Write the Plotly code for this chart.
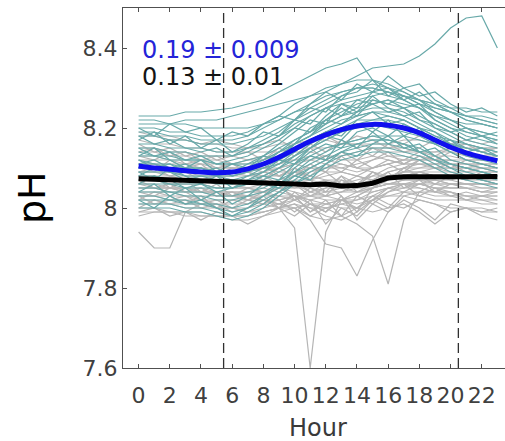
import plotly.graph_objects as go

HOURS = list(range(24))

GRAY_DAYS = [
    [8.07, 8.07, 8.06, 8.06, 8.06, 8.05, 8.05, 8.05, 8.06, 8.06, 8.07, 8.07, 8.06, 8.06, 8.07, 8.08, 8.08, 8.09, 8.09, 8.08, 8.08, 8.07, 8.07, 8.07],
    [8.10, 8.10, 8.09, 8.09, 8.08, 8.08, 8.08, 8.09, 8.10, 8.11, 8.12, 8.12, 8.13, 8.12, 8.12, 8.13, 8.12, 8.11, 8.11, 8.10, 8.10, 8.10, 8.09, 8.09],
    [8.03, 8.03, 8.02, 8.02, 8.02, 8.01, 8.01, 8.01, 8.02, 8.02, 8.03, 8.02, 8.03, 8.04, 8.04, 8.05, 8.06, 8.06, 8.06, 8.05, 8.05, 8.05, 8.04, 8.04],
    [8.14, 8.14, 8.13, 8.13, 8.12, 8.12, 8.11, 8.11, 8.11, 8.12, 8.12, 8.13, 8.12, 8.11, 8.10, 8.10, 8.11, 8.12, 8.12, 8.13, 8.13, 8.12, 8.12, 8.12],
    [8.00, 8.00, 7.99, 7.99, 7.99, 7.98, 7.98, 7.98, 7.99, 8.00, 8.01, 8.00, 8.00, 8.01, 8.02, 8.03, 8.03, 8.04, 8.04, 8.03, 8.03, 8.02, 8.02, 8.01],
    [8.06, 8.06, 8.05, 8.05, 8.05, 8.04, 8.04, 8.03, 8.02, 8.00, 7.95, 7.60, 7.94, 8.02, 8.04, 8.05, 8.06, 8.07, 8.07, 8.06, 8.06, 8.06, 8.05, 8.05],
    [8.05, 8.05, 8.04, 8.04, 8.04, 8.03, 8.03, 8.03, 8.02, 8.01, 8.00, 7.97, 7.91, 7.90, 7.83, 7.92, 7.99, 8.03, 8.04, 8.04, 8.04, 8.03, 8.03, 8.03],
    [8.08, 8.08, 8.07, 8.07, 8.07, 8.06, 8.06, 8.05, 8.05, 8.04, 8.03, 8.01, 8.00, 7.98, 7.96, 7.93, 7.81, 7.97, 8.04, 8.06, 8.06, 8.06, 8.06, 8.06],
    [7.94, 7.90, 7.90, 7.99, 8.01, 8.01, 8.00, 8.00, 8.01, 8.02, 8.03, 8.03, 8.04, 8.04, 8.05, 8.05, 8.06, 8.06, 8.06, 8.05, 8.05, 8.05, 8.04, 8.04],
    [8.12, 8.12, 8.12, 8.11, 8.11, 8.10, 8.10, 8.10, 8.10, 8.09, 8.09, 8.08, 8.07, 8.07, 8.06, 8.07, 8.09, 8.10, 8.11, 8.11, 8.11, 8.11, 8.10, 8.10],
    [8.17, 8.16, 8.16, 8.15, 8.15, 8.14, 8.14, 8.14, 8.14, 8.14, 8.15, 8.15, 8.15, 8.16, 8.16, 8.15, 8.15, 8.15, 8.14, 8.14, 8.14, 8.14, 8.13, 8.13],
    [8.04, 8.04, 8.04, 8.03, 8.03, 8.03, 8.03, 8.03, 8.04, 8.05, 8.05, 8.06, 8.07, 8.06, 8.05, 8.06, 8.08, 8.09, 8.09, 8.08, 8.08, 8.08, 8.07, 8.07],
    [8.09, 8.09, 8.08, 8.08, 8.07, 8.07, 8.07, 8.07, 8.06, 8.05, 8.04, 8.03, 8.02, 8.02, 8.03, 8.05, 8.07, 8.08, 8.09, 8.10, 8.10, 8.10, 8.10, 8.09],
    [8.02, 8.02, 8.01, 8.01, 8.01, 8.00, 8.00, 7.99, 7.99, 8.00, 8.00, 7.98, 8.00, 8.01, 8.00, 7.99, 8.00, 8.01, 7.99, 7.96, 7.99, 8.00, 8.00, 7.99],
    [8.11, 8.11, 8.10, 8.10, 8.10, 8.09, 8.09, 8.08, 8.08, 8.08, 8.09, 8.10, 8.10, 8.10, 8.11, 8.12, 8.13, 8.13, 8.12, 8.12, 8.12, 8.11, 8.11, 8.11],
    [8.06, 8.05, 8.05, 8.05, 8.04, 8.04, 8.04, 8.04, 8.04, 8.05, 8.06, 8.07, 8.08, 8.09, 8.08, 8.07, 8.06, 8.06, 8.07, 8.07, 8.06, 8.06, 8.06, 8.06],
    [7.99, 7.99, 7.99, 7.99, 7.98, 7.98, 7.98, 7.98, 7.99, 8.00, 8.02, 8.03, 8.03, 8.02, 8.02, 8.04, 8.05, 8.04, 8.03, 8.02, 8.02, 8.02, 8.01, 8.01],
    [8.13, 8.13, 8.12, 8.12, 8.11, 8.11, 8.10, 8.10, 8.09, 8.08, 8.06, 8.04, 8.03, 8.04, 8.06, 8.08, 8.10, 8.11, 8.11, 8.11, 8.12, 8.12, 8.12, 8.12],
    [8.08, 8.08, 8.08, 8.07, 8.07, 8.07, 8.06, 8.06, 8.06, 8.07, 8.08, 8.09, 8.10, 8.11, 8.10, 8.09, 8.08, 8.08, 8.09, 8.09, 8.09, 8.08, 8.08, 8.08],
    [8.05, 8.05, 8.05, 8.04, 8.04, 8.04, 8.03, 8.03, 8.03, 8.03, 8.02, 8.00, 7.98, 7.97, 7.99, 8.02, 8.04, 8.05, 8.06, 8.07, 8.07, 8.06, 8.06, 8.06],
    [8.15, 8.15, 8.14, 8.14, 8.13, 8.13, 8.13, 8.12, 8.12, 8.13, 8.14, 8.14, 8.13, 8.13, 8.14, 8.15, 8.14, 8.14, 8.14, 8.14, 8.15, 8.15, 8.15, 8.15],
    [8.01, 8.01, 8.01, 8.00, 8.00, 8.00, 8.00, 7.99, 8.00, 8.01, 8.02, 8.04, 8.05, 8.05, 8.04, 8.04, 8.05, 8.06, 8.05, 8.04, 8.03, 8.03, 8.02, 8.02],
    [8.07, 8.07, 8.06, 8.06, 8.06, 8.05, 8.05, 8.05, 8.04, 8.03, 8.03, 8.02, 8.01, 8.00, 8.00, 8.02, 8.05, 8.06, 8.06, 8.06, 8.05, 8.05, 8.05, 8.05],
    [8.10, 8.10, 8.10, 8.09, 8.09, 8.08, 8.08, 8.08, 8.09, 8.10, 8.11, 8.10, 8.09, 8.09, 8.08, 8.07, 8.09, 8.10, 8.10, 8.11, 8.11, 8.11, 8.10, 8.10],
    [8.03, 8.03, 8.03, 8.03, 8.02, 8.02, 8.02, 8.02, 8.01, 8.00, 8.01, 7.98, 7.97, 7.98, 8.00, 8.03, 8.05, 8.05, 8.05, 8.04, 8.04, 8.03, 8.03, 8.03],
    [8.18, 8.18, 8.17, 8.17, 8.16, 8.16, 8.15, 8.15, 8.15, 8.16, 8.16, 8.17, 8.17, 8.16, 8.16, 8.16, 8.16, 8.17, 8.17, 8.16, 8.16, 8.16, 8.15, 8.15],
    [8.09, 8.09, 8.09, 8.08, 8.08, 8.08, 8.07, 8.07, 8.07, 8.06, 8.05, 8.05, 8.04, 8.05, 8.06, 8.06, 8.07, 8.09, 8.10, 8.10, 8.09, 8.09, 8.09, 8.09],
    [7.98, 7.99, 7.99, 7.98, 7.98, 7.98, 7.97, 7.97, 7.98, 7.99, 8.00, 8.01, 8.01, 8.02, 8.01, 8.02, 8.03, 8.03, 8.02, 8.01, 8.00, 8.00, 7.99, 7.99],
    [8.12, 8.11, 8.11, 8.11, 8.10, 8.10, 8.10, 8.10, 8.10, 8.10, 8.11, 8.12, 8.11, 8.10, 8.09, 8.10, 8.11, 8.12, 8.12, 8.12, 8.12, 8.11, 8.11, 8.11],
    [8.05, 8.05, 8.05, 8.05, 8.04, 8.04, 8.04, 8.04, 8.04, 8.05, 8.03, 7.99, 8.01, 8.02, 8.03, 8.05, 8.06, 8.07, 8.07, 8.07, 8.06, 8.06, 8.06, 8.06],
    [8.06, 8.08, 8.05, 8.07, 8.04, 8.06, 8.03, 8.05, 8.04, 8.06, 8.02, 8.05, 8.03, 8.07, 8.05, 8.09, 8.07, 8.10, 8.08, 8.06, 8.08, 8.07, 8.09, 8.08],
    [8.11, 8.09, 8.12, 8.10, 8.11, 8.08, 8.10, 8.09, 8.07, 8.10, 8.08, 8.11, 8.09, 8.13, 8.10, 8.12, 8.14, 8.11, 8.13, 8.12, 8.10, 8.12, 8.11, 8.10],
    [8.02, 8.04, 8.03, 8.01, 8.03, 8.00, 8.02, 8.01, 8.03, 8.00, 8.04, 8.01, 7.99, 8.03, 7.97, 8.01, 8.04, 8.06, 8.03, 8.05, 8.04, 8.02, 8.03, 8.02],
    [8.16, 8.14, 8.15, 8.13, 8.14, 8.12, 8.13, 8.14, 8.12, 8.15, 8.13, 8.16, 8.14, 8.17, 8.15, 8.13, 8.16, 8.14, 8.15, 8.17, 8.15, 8.16, 8.14, 8.15],
    [8.04, 8.03, 8.05, 8.04, 8.02, 8.04, 8.03, 8.02, 8.04, 8.02, 7.99, 8.02, 7.96, 8.00, 7.98, 8.02, 8.00, 8.04, 8.06, 8.05, 8.03, 8.04, 8.03, 8.04],
    [8.09, 8.10, 8.08, 8.09, 8.07, 8.08, 8.06, 8.07, 8.09, 8.08, 8.10, 8.08, 8.11, 8.09, 8.12, 8.10, 8.11, 8.09, 8.12, 8.10, 8.11, 8.09, 8.10, 8.09],
    [8.00, 8.02, 8.01, 8.02, 8.00, 8.01, 7.99, 8.00, 8.02, 8.01, 8.03, 7.99, 8.02, 7.98, 8.03, 8.01, 7.99, 8.02, 8.00, 7.97, 8.01, 8.00, 7.99, 8.00],
    [8.13, 8.12, 8.14, 8.11, 8.12, 8.10, 8.11, 8.09, 8.11, 8.08, 8.10, 8.07, 8.09, 8.06, 8.08, 8.10, 8.12, 8.11, 8.13, 8.12, 8.14, 8.13, 8.12, 8.13],
    [8.07, 8.05, 8.06, 8.04, 8.05, 8.03, 8.04, 8.02, 8.03, 8.05, 8.07, 8.04, 8.06, 8.03, 7.99, 8.05, 8.08, 8.07, 8.09, 8.08, 8.07, 8.08, 8.07, 8.06],
    [8.19, 8.18, 8.18, 8.17, 8.16, 8.17, 8.16, 8.15, 8.16, 8.17, 8.15, 8.17, 8.18, 8.16, 8.18, 8.17, 8.15, 8.16, 8.18, 8.17, 8.16, 8.17, 8.16, 8.17],
    [8.03, 8.01, 8.02, 8.03, 8.01, 8.02, 8.00, 8.02, 8.01, 8.04, 8.06, 8.03, 8.05, 8.08, 8.04, 8.06, 8.09, 8.05, 8.07, 8.04, 8.06, 8.05, 8.04, 8.05],
    [8.10, 8.11, 8.09, 8.10, 8.09, 8.10, 8.08, 8.09, 8.08, 8.06, 8.09, 8.07, 8.04, 8.08, 8.06, 8.09, 8.07, 8.10, 8.12, 8.10, 8.11, 8.10, 8.11, 8.10],
    [7.99, 8.00, 7.98, 7.99, 7.97, 7.99, 7.98, 7.96, 7.98, 8.00, 7.98, 8.01, 7.99, 8.02, 8.00, 8.03, 8.01, 8.00, 8.02, 8.01, 7.99, 8.00, 7.98, 7.97],
    [8.14, 8.15, 8.13, 8.14, 8.12, 8.13, 8.11, 8.12, 8.13, 8.11, 8.13, 8.15, 8.12, 8.14, 8.12, 8.15, 8.13, 8.12, 8.14, 8.13, 8.15, 8.14, 8.13, 8.14],
]

TEAL_DAYS = [
    [8.21, 8.21, 8.21, 8.22, 8.22, 8.22, 8.23, 8.24, 8.25, 8.26, 8.27, 8.28, 8.29, 8.31, 8.33, 8.35, 8.355, 8.36, 8.38, 8.41, 8.45, 8.475, 8.48, 8.40],
    [8.23, 8.23, 8.23, 8.24, 8.24, 8.245, 8.25, 8.26, 8.27, 8.29, 8.31, 8.33, 8.35, 8.36, 8.375, 8.32, 8.30, 8.28, 8.26, 8.25, 8.24, 8.23, 8.23, 8.22],
    [8.20, 8.20, 8.19, 8.19, 8.18, 8.18, 8.18, 8.19, 8.21, 8.23, 8.26, 8.28, 8.30, 8.31, 8.32, 8.32, 8.31, 8.29, 8.27, 8.25, 8.24, 8.23, 8.22, 8.21],
    [8.15, 8.15, 8.14, 8.14, 8.13, 8.13, 8.13, 8.14, 8.16, 8.18, 8.20, 8.23, 8.25, 8.27, 8.28, 8.29, 8.28, 8.27, 8.25, 8.22, 8.20, 8.19, 8.18, 8.17],
    [8.12, 8.11, 8.11, 8.10, 8.10, 8.09, 8.09, 8.10, 8.12, 8.14, 8.17, 8.19, 8.21, 8.23, 8.24, 8.25, 8.25, 8.24, 8.22, 8.20, 8.18, 8.16, 8.15, 8.14],
    [8.08, 8.08, 8.07, 8.07, 8.07, 8.06, 8.06, 8.07, 8.08, 8.10, 8.12, 8.15, 8.17, 8.19, 8.20, 8.21, 8.21, 8.20, 8.19, 8.17, 8.15, 8.13, 8.12, 8.11],
    [8.05, 8.05, 8.04, 8.04, 8.04, 8.03, 8.03, 8.04, 8.05, 8.07, 8.09, 8.11, 8.13, 8.15, 8.16, 8.17, 8.17, 8.16, 8.15, 8.13, 8.11, 8.10, 8.09, 8.08],
    [8.02, 8.02, 8.02, 8.01, 8.01, 8.00, 7.99, 8.00, 8.02, 8.04, 8.06, 8.08, 8.10, 8.12, 8.13, 8.14, 8.14, 8.13, 8.12, 8.10, 8.08, 8.07, 8.06, 8.05],
    [8.18, 8.18, 8.17, 8.17, 8.16, 8.16, 8.16, 8.17, 8.18, 8.20, 8.22, 8.24, 8.26, 8.28, 8.30, 8.31, 8.30, 8.29, 8.27, 8.26, 8.24, 8.22, 8.21, 8.20],
    [8.10, 8.10, 8.09, 8.09, 8.09, 8.08, 8.08, 8.09, 8.10, 8.12, 8.14, 8.17, 8.19, 8.20, 8.22, 8.22, 8.23, 8.22, 8.20, 8.18, 8.17, 8.15, 8.14, 8.13],
    [8.14, 8.13, 8.13, 8.12, 8.12, 8.11, 8.11, 8.12, 8.13, 8.15, 8.17, 8.19, 8.22, 8.24, 8.26, 8.27, 8.26, 8.25, 8.23, 8.21, 8.19, 8.17, 8.16, 8.15],
    [8.06, 8.06, 8.06, 8.05, 8.05, 8.05, 8.05, 8.06, 8.07, 8.09, 8.11, 8.13, 8.15, 8.16, 8.17, 8.18, 8.18, 8.18, 8.17, 8.16, 8.14, 8.12, 8.11, 8.10],
    [8.03, 8.03, 8.02, 8.02, 8.01, 8.01, 8.00, 8.01, 8.03, 8.06, 8.09, 8.12, 8.14, 8.16, 8.17, 8.18, 8.17, 8.16, 8.14, 8.12, 8.10, 8.09, 8.08, 8.07],
    [8.22, 8.22, 8.21, 8.21, 8.20, 8.20, 8.20, 8.20, 8.21, 8.22, 8.24, 8.25, 8.27, 8.29, 8.30, 8.30, 8.29, 8.28, 8.27, 8.26, 8.25, 8.25, 8.24, 8.24],
    [8.09, 8.09, 8.09, 8.08, 8.08, 8.08, 8.07, 8.08, 8.09, 8.11, 8.13, 8.15, 8.17, 8.19, 8.21, 8.22, 8.22, 8.21, 8.19, 8.17, 8.15, 8.14, 8.13, 8.12],
    [8.11, 8.11, 8.10, 8.10, 8.10, 8.09, 8.09, 8.10, 8.11, 8.13, 8.16, 8.18, 8.20, 8.22, 8.23, 8.24, 8.23, 8.22, 8.20, 8.18, 8.16, 8.15, 8.14, 8.13],
    [8.00, 8.00, 8.00, 7.99, 7.99, 7.98, 7.97, 7.98, 8.00, 8.03, 8.06, 8.09, 8.11, 8.13, 8.14, 8.15, 8.15, 8.14, 8.13, 8.11, 8.09, 8.08, 8.07, 8.06],
    [8.16, 8.16, 8.15, 8.15, 8.15, 8.14, 8.14, 8.15, 8.16, 8.18, 8.21, 8.23, 8.25, 8.26, 8.27, 8.28, 8.29, 8.28, 8.26, 8.24, 8.22, 8.20, 8.19, 8.18],
    [8.07, 8.07, 8.06, 8.06, 8.06, 8.05, 8.05, 8.06, 8.08, 8.10, 8.13, 8.16, 8.18, 8.20, 8.21, 8.21, 8.20, 8.19, 8.18, 8.16, 8.14, 8.12, 8.11, 8.10],
    [8.13, 8.13, 8.12, 8.12, 8.12, 8.11, 8.11, 8.11, 8.12, 8.14, 8.16, 8.18, 8.21, 8.23, 8.25, 8.26, 8.27, 8.26, 8.25, 8.23, 8.21, 8.19, 8.18, 8.17],
    [8.04, 8.04, 8.04, 8.03, 8.03, 8.02, 8.02, 8.03, 8.04, 8.06, 8.08, 8.10, 8.12, 8.14, 8.15, 8.16, 8.16, 8.15, 8.14, 8.12, 8.11, 8.10, 8.09, 8.08],
    [8.19, 8.19, 8.18, 8.18, 8.17, 8.17, 8.17, 8.18, 8.20, 8.22, 8.24, 8.26, 8.28, 8.29, 8.30, 8.30, 8.29, 8.27, 8.25, 8.23, 8.22, 8.21, 8.21, 8.20],
    [8.01, 8.01, 8.01, 8.00, 8.00, 7.99, 7.98, 7.99, 8.01, 8.04, 8.07, 8.10, 8.12, 8.14, 8.16, 8.17, 8.17, 8.16, 8.14, 8.12, 8.10, 8.08, 8.07, 8.06],
    [8.10, 8.10, 8.10, 8.09, 8.09, 8.09, 8.09, 8.10, 8.11, 8.13, 8.15, 8.17, 8.19, 8.21, 8.23, 8.24, 8.24, 8.23, 8.21, 8.19, 8.17, 8.16, 8.15, 8.14],
    [8.17, 8.19, 8.16, 8.18, 8.15, 8.17, 8.14, 8.16, 8.19, 8.18, 8.22, 8.21, 8.25, 8.23, 8.27, 8.26, 8.24, 8.25, 8.22, 8.21, 8.19, 8.20, 8.18, 8.19],
    [8.09, 8.07, 8.10, 8.08, 8.06, 8.08, 8.05, 8.07, 8.09, 8.12, 8.11, 8.15, 8.18, 8.17, 8.21, 8.19, 8.22, 8.18, 8.20, 8.16, 8.17, 8.14, 8.15, 8.13],
    [8.13, 8.15, 8.12, 8.10, 8.12, 8.09, 8.11, 8.10, 8.13, 8.16, 8.19, 8.22, 8.21, 8.26, 8.24, 8.28, 8.25, 8.23, 8.24, 8.20, 8.19, 8.17, 8.18, 8.16],
    [8.04, 8.06, 8.03, 8.05, 8.02, 8.04, 8.01, 8.03, 8.06, 8.05, 8.10, 8.13, 8.12, 8.17, 8.15, 8.19, 8.16, 8.18, 8.14, 8.15, 8.12, 8.11, 8.10, 8.09],
    [8.20, 8.18, 8.21, 8.19, 8.20, 8.17, 8.19, 8.18, 8.21, 8.23, 8.22, 8.26, 8.29, 8.27, 8.31, 8.29, 8.33, 8.30, 8.28, 8.29, 8.26, 8.24, 8.25, 8.23],
    [8.11, 8.12, 8.10, 8.11, 8.09, 8.10, 8.08, 8.09, 8.11, 8.14, 8.16, 8.20, 8.22, 8.25, 8.23, 8.27, 8.26, 8.28, 8.27, 8.24, 8.22, 8.20, 8.19, 8.18],
    [8.06, 8.08, 8.07, 8.05, 8.06, 8.04, 8.05, 8.06, 8.08, 8.07, 8.11, 8.14, 8.16, 8.15, 8.19, 8.20, 8.18, 8.21, 8.19, 8.17, 8.16, 8.14, 8.13, 8.12],
    [8.15, 8.13, 8.14, 8.12, 8.13, 8.11, 8.12, 8.13, 8.15, 8.17, 8.20, 8.19, 8.23, 8.26, 8.25, 8.29, 8.30, 8.27, 8.29, 8.26, 8.24, 8.22, 8.21, 8.20],
    [8.02, 8.00, 8.03, 8.01, 8.02, 8.00, 7.98, 8.00, 8.03, 8.05, 8.08, 8.07, 8.11, 8.14, 8.13, 8.16, 8.18, 8.15, 8.16, 8.13, 8.11, 8.10, 8.09, 8.08],
    [8.18, 8.16, 8.17, 8.15, 8.14, 8.15, 8.13, 8.15, 8.17, 8.19, 8.22, 8.25, 8.24, 8.28, 8.29, 8.32, 8.28, 8.30, 8.31, 8.27, 8.25, 8.23, 8.22, 8.21],
    [8.08, 8.10, 8.09, 8.07, 8.08, 8.07, 8.06, 8.08, 8.10, 8.11, 8.14, 8.17, 8.19, 8.18, 8.22, 8.24, 8.21, 8.22, 8.20, 8.19, 8.16, 8.15, 8.14, 8.13],
    [8.12, 8.10, 8.11, 8.09, 8.10, 8.08, 8.09, 8.11, 8.13, 8.12, 8.16, 8.18, 8.22, 8.21, 8.24, 8.26, 8.27, 8.25, 8.26, 8.22, 8.20, 8.18, 8.17, 8.16],
]

BLUE_MEAN = [8.105, 8.100, 8.097, 8.093, 8.090, 8.088, 8.090, 8.098, 8.110, 8.127, 8.147, 8.167,
             8.183, 8.196, 8.205, 8.209, 8.207, 8.200, 8.188, 8.170, 8.152, 8.138, 8.127, 8.118]
BLACK_MEAN = [8.073, 8.072, 8.071, 8.070, 8.069, 8.067, 8.066, 8.065, 8.064, 8.063, 8.060, 8.058,
              8.060, 8.055, 8.056, 8.062, 8.075, 8.078, 8.077, 8.077, 8.078, 8.078, 8.078, 8.079]

SUN_HOURS = [5.45, 20.5]
X_TICKS = list(range(0, 23, 2))
Y_TICKS = [7.6, 7.8, 8.0, 8.2, 8.4]
Y_TICK_TEXT = ["7.6", "7.8", "8", "8.2", "8.4"]
BLUE_LABEL = "0.19 ± 0.009"
BLACK_LABEL = "0.13 ± 0.01"

FONT = "DejaVu Sans"
W, H = 505, 441
L, R, T, B = 123, 0, 8, 73
PW, PH = W - L - R, H - T - B

fig = go.Figure()
for day in GRAY_DAYS:
    fig.add_trace(go.Scatter(x=HOURS, y=day, mode="lines",
                             line=dict(color="#b5b5b5", width=1.2), hoverinfo="skip"))
for day in TEAL_DAYS:
    fig.add_trace(go.Scatter(x=HOURS, y=day, mode="lines",
                             line=dict(color="#68a9a9", width=1.2), hoverinfo="skip"))
for h in SUN_HOURS:
    fig.add_trace(go.Scatter(x=[h, h], y=[7.6, 8.5], mode="lines",
                             line=dict(color="#303030", width=1.3, dash="10px,5px"), hoverinfo="skip"))
fig.add_trace(go.Scatter(x=HOURS, y=BLUE_MEAN, mode="lines",
                         line=dict(color="#1010ee", width=5, shape="spline")))
fig.add_trace(go.Scatter(x=HOURS, y=BLACK_MEAN, mode="lines",
                         line=dict(color="#000000", width=5)))


def px_to_paper_x(px):
    return (px - L) / PW


def px_to_paper_y(py):
    return (H - B - py) / PH


fig.add_annotation(text=BLUE_LABEL, xref="paper", yref="paper",
                   x=px_to_paper_x(140), y=px_to_paper_y(50), xanchor="left", yanchor="middle",
                   showarrow=False, font=dict(family=FONT, size=24, color="#2424d8"))
fig.add_annotation(text=BLACK_LABEL, xref="paper", yref="paper",
                   x=px_to_paper_x(140), y=px_to_paper_y(77), xanchor="left", yanchor="middle",
                   showarrow=False, font=dict(family=FONT, size=24, color="#141414"))
fig.add_annotation(text="Hour", xref="paper", yref="paper",
                   x=px_to_paper_x(318), y=px_to_paper_y(428), xanchor="center", yanchor="middle",
                   showarrow=False, font=dict(family=FONT, size=24, color="#3a3a3a"))
fig.add_annotation(text="pH", xref="paper", yref="paper", textangle=-90,
                   x=px_to_paper_x(32), y=px_to_paper_y(198), xanchor="center", yanchor="middle",
                   showarrow=False, font=dict(family=FONT, size=38, color="#000000"))

fig.update_layout(
    width=W, height=H,
    margin=dict(l=L, r=R, t=T, b=B, pad=0),
    paper_bgcolor="white", plot_bgcolor="white",
    showlegend=False,
    font=dict(family=FONT, color="#404040"),
)
fig.update_xaxes(range=[-1, 23.49], tickvals=X_TICKS, ticks="inside", ticklen=4,
                 tickcolor="#505050", showline=True, linecolor="#505050", linewidth=1.2,
                 mirror="ticks", showgrid=False, zeroline=False, ticklabelstandoff=7,
                 tickfont=dict(family=FONT, size=22, color="#404040"))
fig.update_yaxes(range=[7.6, 8.5], tickvals=Y_TICKS, ticktext=Y_TICK_TEXT, ticks="inside",
                 ticklen=4, tickcolor="#505050", showline=True, linecolor="#505050",
                 linewidth=1.2, mirror=False, showgrid=False, zeroline=False,
                 tickfont=dict(family=FONT, size=22, color="#404040"))

fig.write_html("out.html")
